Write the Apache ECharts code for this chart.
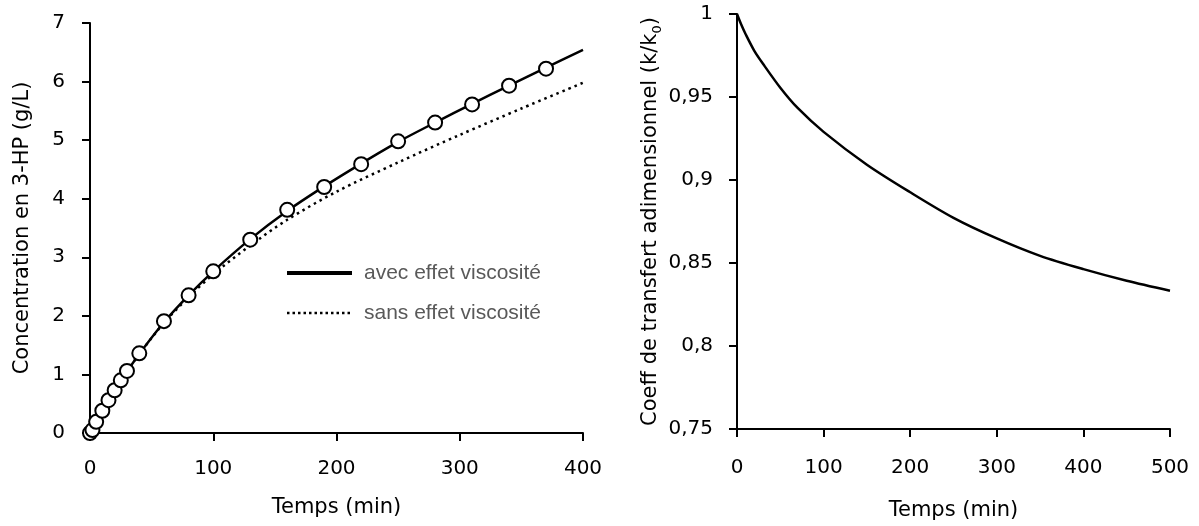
<!DOCTYPE html>
<html>
<head>
<meta charset="utf-8">
<title>3-HP et coefficient de transfert</title>
<script src="https://cdn.jsdelivr.net/npm/echarts@6/dist/echarts.min.js"></script>
<style>
  html, body { margin: 0; padding: 0; background: #fff; }
  #chart { width: 1199px; height: 526px; }
</style>
</head>
<body>
<div id="chart"></div>
<script>
// --- Left panel: 3-HP concentration vs time ---
// Measured points (open circles)
const measTime = [0, 2, 5, 10, 15, 20, 25, 30, 40, 60, 80, 100, 130, 160, 190, 220, 250, 280, 310, 340, 370];
const measConc = [0, 0.05, 0.19, 0.38, 0.56, 0.73, 0.90, 1.06, 1.36, 1.91, 2.35, 2.76, 3.30, 3.81, 4.20, 4.59, 4.98, 5.30, 5.61, 5.93, 6.22];

// Model with viscosity effect (solid line)
const avecTime = [0, 10, 20, 30, 40, 60, 80, 100, 130, 160, 190, 220, 250, 280, 310, 340, 370, 400];
const avecConc = [0, 0.38, 0.73, 1.05, 1.35, 1.89, 2.35, 2.76, 3.31, 3.79, 4.21, 4.60, 4.97, 5.30, 5.62, 5.93, 6.24, 6.54];

// Model without viscosity effect (dotted line)
const sansTime = [0, 10, 20, 30, 40, 60, 80, 100, 130, 160, 200, 250, 300, 350, 400];
const sansConc = [0, 0.38, 0.73, 1.05, 1.35, 1.88, 2.32, 2.71, 3.20, 3.64, 4.12, 4.62, 5.09, 5.54, 5.98];

// --- Right panel: dimensionless transfer coefficient k/k0 vs time ---
const kTime  = [0, 5, 10, 20, 30, 50, 70, 100, 150, 200, 250, 300, 350, 400, 450, 500];
const kRatio = [1, 0.9935, 0.9878, 0.9778, 0.9700, 0.9556, 0.9434, 0.9290, 0.9092, 0.8926, 0.8772, 0.8648, 0.8543, 0.8463, 0.8393, 0.8333];

// Axis ranges and tick steps
const leftX  = { min: 0, max: 400, step: 100 };
const leftY  = { min: 0, max: 7, step: 1 };
const rightX = { min: 0, max: 500, step: 100 };
const rightY = { min: 0.75, max: 1, step: 0.05 };

const legendNames = ['avec effet viscosité', 'sans effet viscosité'];

const zip = (xs, ys) => xs.map((x, i) => [x, ys[i]]);

const FONT = 'DejaVu Sans';
const axisCommon = {
  axisLine: { show: true, onZero: false, lineStyle: { color: '#000', width: 2 } },
  axisTick: { show: true, inside: false, length: 8, lineStyle: { color: '#000', width: 2 } },
  splitLine: { show: false },
  nameLocation: 'middle',
  nameTextStyle: { fontFamily: FONT, fontSize: 21, color: '#000' }
};
const labelStyle = { fontFamily: FONT, fontSize: 20, color: '#000' };
const commaFmt = v => String(+v.toFixed(2)).replace('.', ',');

const chart = echarts.init(document.getElementById('chart'), null, { renderer: 'canvas' });

chart.setOption({
  backgroundColor: '#fff',
  animation: false,
  grid: [
    { left: 90, top: 23, width: 493, height: 410 },
    { left: 737, top: 14, width: 433, height: 418 }
  ],
  xAxis: [
    Object.assign({}, axisCommon, {
      type: 'value', gridIndex: 0,
      min: leftX.min, max: leftX.max, interval: leftX.step,
      name: 'Temps (min)', nameGap: 64,
      axisLabel: Object.assign({ margin: 26 }, labelStyle)
    }),
    Object.assign({}, axisCommon, {
      type: 'value', gridIndex: 1,
      min: rightX.min, max: rightX.max, interval: rightX.step,
      name: 'Temps (min)', nameGap: 71,
      axisLabel: Object.assign({ margin: 29 }, labelStyle)
    })
  ],
  yAxis: [
    Object.assign({}, axisCommon, {
      type: 'value', gridIndex: 0,
      min: leftY.min, max: leftY.max, interval: leftY.step,
      name: 'Concentration en 3-HP (g/L)', nameGap: 57,
      axisLabel: Object.assign({ margin: 25 }, labelStyle)
    }),
    Object.assign({}, axisCommon, {
      type: 'value', gridIndex: 1,
      min: rightY.min, max: rightY.max, interval: rightY.step,
      name: '{a|Coeff de transfert adimensionnel (k/k}{s|0}{a|)}', nameGap: 71,
      nameTextStyle: {
        fontFamily: FONT, fontSize: 21, color: '#000',
        rich: {
          a: { fontFamily: FONT, fontSize: 21, color: '#000', lineHeight: 26, verticalAlign: 'bottom' },
          s: { fontFamily: FONT, fontSize: 13, color: '#000', lineHeight: 26, verticalAlign: 'bottom', padding: [0, 0, -4, 0] }
        }
      },
      axisLabel: Object.assign({ margin: 24, formatter: commaFmt }, labelStyle)
    })
  ],
  legend: {
    orient: 'vertical',
    left: 285, top: 261, padding: 0,
    itemWidth: 65, itemHeight: 24, itemGap: 16,
    itemStyle: { opacity: 0 },
    textStyle: { fontFamily: 'Liberation Sans', fontSize: 21, color: '#595959', lineHeight: 24, padding: [0, 0, 0, 7] },
    data: [
      { name: legendNames[0], lineStyle: { width: 4, color: '#000' } },
      { name: legendNames[1], lineStyle: { width: 2.5, color: '#000', type: [2.5, 3] } }
    ]
  },
  series: [
    {
      name: legendNames[1], type: 'line', xAxisIndex: 0, yAxisIndex: 0,
      data: zip(sansTime, sansConc),
      smooth: 0.3, symbol: 'none',
      lineStyle: { color: '#000', width: 2.5, type: [2.5, 4] },
      z: 2
    },
    {
      name: legendNames[0], type: 'line', xAxisIndex: 0, yAxisIndex: 0,
      data: zip(avecTime, avecConc),
      smooth: 0.3, symbol: 'none',
      lineStyle: { color: '#000', width: 2.5 },
      z: 3
    },
    {
      name: 'mesures', type: 'scatter', xAxisIndex: 0, yAxisIndex: 0,
      data: zip(measTime, measConc),
      symbol: 'circle', symbolSize: 14,
      itemStyle: { color: '#fff', borderColor: '#000', borderWidth: 2, opacity: 1 },
      z: 4
    },
    {
      name: 'k/k0', type: 'line', xAxisIndex: 1, yAxisIndex: 1,
      data: zip(kTime, kRatio),
      smooth: 0.3, symbol: 'none',
      lineStyle: { color: '#000', width: 2.5 }
    }
  ]
});
</script>
</body>
</html>
